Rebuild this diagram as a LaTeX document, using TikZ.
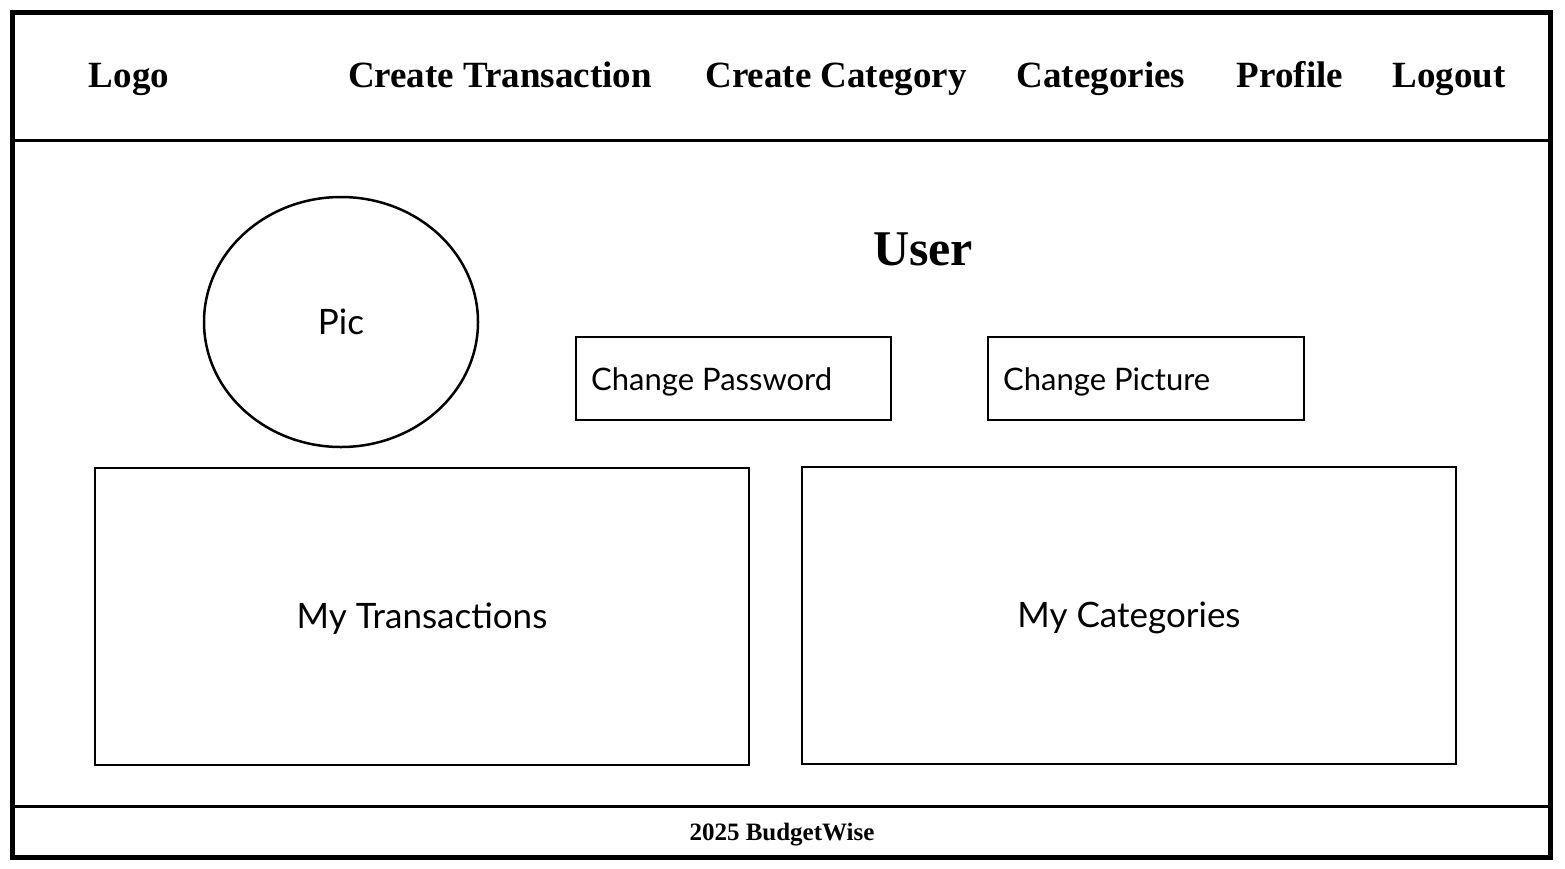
\documentclass[tikz,border=0pt]{standalone}
\usepackage{fontspec}
\setmainfont{Liberation Serif}
\newfontfamily\bodysans{Lato}
\begin{document}
\begin{tikzpicture}[x=1pt,y=-1pt,
  navtext/.style={font=\fontsize{37}{42}\selectfont\bfseries, anchor=base, inner sep=0},
  boxline/.style={draw=black, line width=2.5pt},
  bodytext/.style={font=\bodysans\fontsize{35}{40}\selectfont, anchor=base, inner sep=0},
  smalltext/.style={font=\bodysans\fontsize{31}{36}\selectfont, anchor=base west, inner sep=0}]
\useasboundingbox (0,0) rectangle (1565,868);
% frame
\draw[line width=5pt] (12.5,12.5) rectangle (1550.5,857.5);
\draw[line width=3pt] (12.5,140.5) -- (1550.5,140.5);
\draw[line width=3pt] (12.5,806.5) -- (1550.5,806.5);
% nav
\node[navtext] (logo) at (129,87) {Logo};
\node[navtext] (ctrans) at (500,87) {Create Transaction};
\node[navtext] (ccat) at (836,87) {Create Category};
\node[navtext] (cats) at (1101,87) {Categories};
\node[navtext] (prof) at (1290,87) {Profile};
\node[navtext] (logout) at (1449,87) {Logout};
% pic
\draw[boxline] (341,322) ellipse [x radius=137, y radius=125];
\node[bodytext] (pic) at (341,334) {Pic};
% user
\node[font=\fontsize{50}{58}\selectfont\bfseries, anchor=base, inner sep=0] (user) at (923,265) {User};
% buttons
\draw[boxline] (576,337) rectangle (891,420);
\node[smalltext] (cpw) at (591,390) {Change Password};
\draw[boxline] (988,337) rectangle (1304,420);
\node[smalltext] (cpic) at (1003,390) {Change Picture};
% panels
\draw[boxline] (95,468) rectangle (749,765);
\node[bodytext] (mytrans) at (422,628) {My Transactions};
\draw[boxline] (802,467) rectangle (1456,764);
\node[bodytext] (mycats) at (1129,627) {My Categories};
% footer
\node[font=\fontsize{25}{30}\selectfont\bfseries, anchor=base, inner sep=0] (foot) at (782,840) {2025 BudgetWise};
\end{tikzpicture}
\end{document}
